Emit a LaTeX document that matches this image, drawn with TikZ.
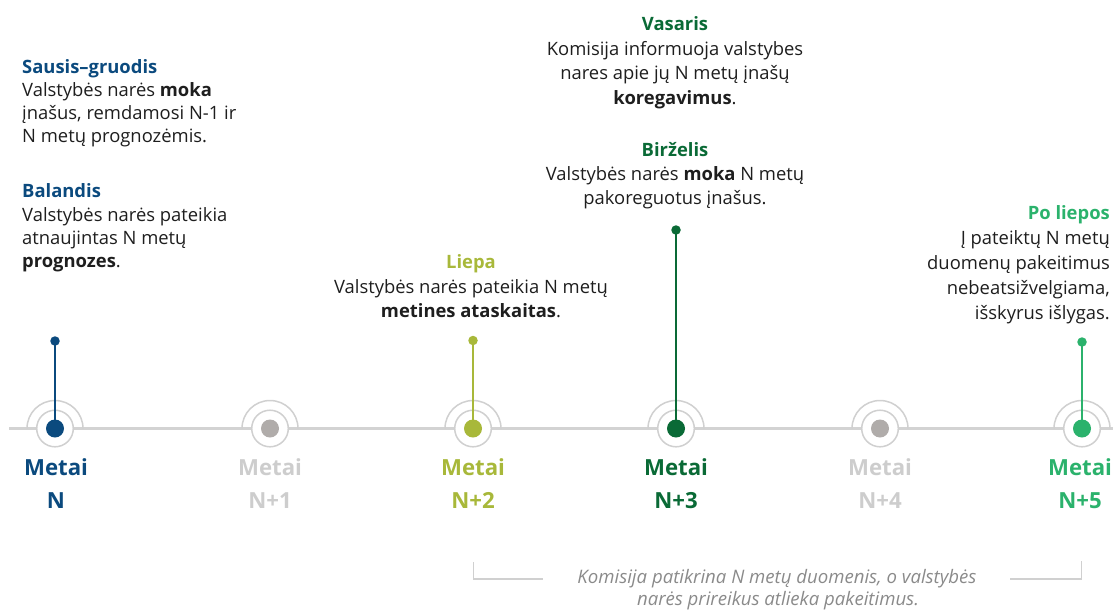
\documentclass[tikz,border=0pt]{standalone}
\usepackage{fontspec}
\setmainfont{Open Sans}
\definecolor{blueN}{HTML}{0B4A7E}
\definecolor{olive}{HTML}{A8B83A}
\definecolor{dgreen}{HTML}{0A6A36}
\definecolor{lgreen}{HTML}{2BB26C}
\definecolor{dotgray}{HTML}{B0ACAA}
\definecolor{ringgray}{HTML}{D0D0D0}
\definecolor{linegray}{HTML}{D3D3D3}
\definecolor{labgray}{HTML}{CDCDCD}
\definecolor{bodyblack}{HTML}{1E1E1E}
\definecolor{notegray}{HTML}{8A8A8A}
\begin{document}
\begin{tikzpicture}[x=1pt,y=-1pt,
  body/.style={inner sep=0pt, text=bodyblack, font=\fontsize{18.4}{22}\selectfont},
  ttl/.style={inner sep=0pt, text=#1, font=\fontsize{18.4}{22}\selectfont\bfseries},
  yearlab/.style={inner sep=0pt, text=#1, font=\fontsize{22.2}{28}\selectfont\bfseries},
  ring/.style={circle, draw=ringgray, line width=1.5pt, fill=white, minimum size=36.6pt, inner sep=0pt},
  bigdot/.style={circle, fill=#1, minimum size=18pt, inner sep=0pt},
  tipdot/.style={circle, fill=#1, minimum size=9.5pt, inner sep=0pt},
  stem/.style={draw=#1, line width=2.2pt},
  outerarc/.style={draw=ringgray, line width=1.5pt},
  note/.style={inner sep=0pt, text=notegray, font=\fontsize{18.6}{21}\selectfont\itshape},
  bracket/.style={draw=ringgray, line width=1.4pt}
]
\useasboundingbox (0,0) rectangle (1113,613);

% timeline
\coordinate (lstart) at (9,428.5);
\coordinate (lend) at (1113,428.5);
\draw[linegray, line width=3pt] (lstart) -- (lend);

% year markers
\foreach \nm/\xx in {a/55, b/270, c/473, d/676, e/880, f/1082}{
  \draw[outerarc] (\xx-28,428.5) arc[start angle=180, end angle=360, radius=28];
  \node[ring] (ring\nm) at (\xx,428.5) {};
}

% stems and dots
\node[tipdot=blueN] (tipa) at (55,341) {};
\node[tipdot=olive] (tipc) at (473,340.5) {};
\node[tipdot=dgreen] (tipd) at (676,230) {};
\node[tipdot=lgreen] (tipf) at (1082,342) {};
\node[bigdot=blueN] (dota) at (55,428.5) {};
\node[bigdot=dotgray] (dotb) at (270,428.5) {};
\node[bigdot=olive] (dotc) at (473,428.5) {};
\node[bigdot=dgreen] (dotd) at (676,428.5) {};
\node[bigdot=dotgray] (dote) at (880,428.5) {};
\node[bigdot=lgreen] (dotf) at (1082,428.5) {};
\draw[stem=blueN] (tipa.center) -- (dota.center);
\draw[stem=olive] (tipc.center) -- (dotc.center);
\draw[stem=dgreen] (tipd.center) -- (dotd.center);
\draw[stem=lgreen] (tipf.center) -- (dotf.center);

% year labels
\node[yearlab=blueN, anchor=base] (ya1) at (56,475) {Metai};
\node[yearlab=blueN, anchor=base] (ya2) at (56,508) {N};
\node[yearlab=labgray, anchor=base] (yb1) at (270,475) {Metai};
\node[yearlab=labgray, anchor=base] (yb2) at (270,508) {N+1};
\node[yearlab=olive, anchor=base] (yc1) at (473,475) {Metai};
\node[yearlab=olive, anchor=base] (yc2) at (473,508) {N+2};
\node[yearlab=dgreen, anchor=base] (yd1) at (676,475) {Metai};
\node[yearlab=dgreen, anchor=base] (yd2) at (676,508) {N+3};
\node[yearlab=labgray, anchor=base] (ye1) at (880,475) {Metai};
\node[yearlab=labgray, anchor=base] (ye2) at (880,508) {N+4};
\node[yearlab=lgreen, anchor=base] (yf1) at (1080,475) {Metai};
\node[yearlab=lgreen, anchor=base] (yf2) at (1080,508) {N+5};

% left block
\node[ttl=blueN, anchor=base west] (s0) at (22,73.5) {Sausis–gruodis};
\node[body, anchor=base west] (s1) at (22,96) {Valstybės narės \textbf{moka}};
\node[body, anchor=base west] (s2) at (22,119) {įnašus, remdamosi N-1 ir};
\node[body, anchor=base west] (s3) at (22,142) {N metų prognozėmis.};
\node[ttl=blueN, anchor=base west] (b0) at (22,197) {Balandis};
\node[body, anchor=base west] (b1) at (22,221) {Valstybės narės pateikia};
\node[body, anchor=base west] (b2) at (22,244) {atnaujintas N metų};
\node[body, anchor=base west] (b3) at (22,267) {\textbf{prognozes}.};

% top middle block
\node[ttl=dgreen, anchor=base] (v0) at (675,30) {Vasaris};
\node[body, anchor=base] (v1) at (675,55) {Komisija informuoja valstybes};
\node[body, anchor=base] (v2) at (675,79.5) {nares apie jų N metų įnašų};
\node[body, anchor=base] (v3) at (675,104) {\textbf{koregavimus}.};
\node[ttl=dgreen, anchor=base] (z0) at (675,156) {Birželis};
\node[body, anchor=base] (z1) at (675,180) {Valstybės narės \textbf{moka} N metų};
\node[body, anchor=base] (z2) at (675,204) {pakoreguotus įnašus.};

% Liepa block
\node[ttl=olive, anchor=base] (l0) at (471,268) {Liepa};
\node[body, anchor=base] (l1) at (471,293) {Valstybės narės pateikia N metų};
\node[body, anchor=base] (l2) at (471,317) {\textbf{metines ataskaitas}.};

% right block
\node[ttl=lgreen, anchor=base east] (p0) at (1110,219) {Po liepos};
\node[body, anchor=base east] (p1) at (1110,244) {Į pateiktų N metų};
\node[body, anchor=base east] (p2) at (1110,269) {duomenų pakeitimus};
\node[body, anchor=base east] (p3) at (1110,294) {nebeatsižvelgiama,};
\node[body, anchor=base east] (p4) at (1110,319) {išskyrus išlygas.};

% bottom note and bracket
\coordinate (bl1) at (473.5,562);
\coordinate (bl2) at (473.5,579);
\coordinate (bl3) at (543,579);
\coordinate (br1) at (1010,579);
\coordinate (br2) at (1081.5,579);
\coordinate (br3) at (1081.5,561);
\draw[bracket] (bl1) -- (bl2) -- (bl3);
\draw[bracket] (br1) -- (br2) -- (br3);
\node[note, anchor=base] (n1) at (777,583) {Komisija patikrina N metų duomenis, o valstybės};
\node[note, anchor=base] (n2) at (778,605) {narės prireikus atlieka pakeitimus.};
\end{tikzpicture}
\end{document}
